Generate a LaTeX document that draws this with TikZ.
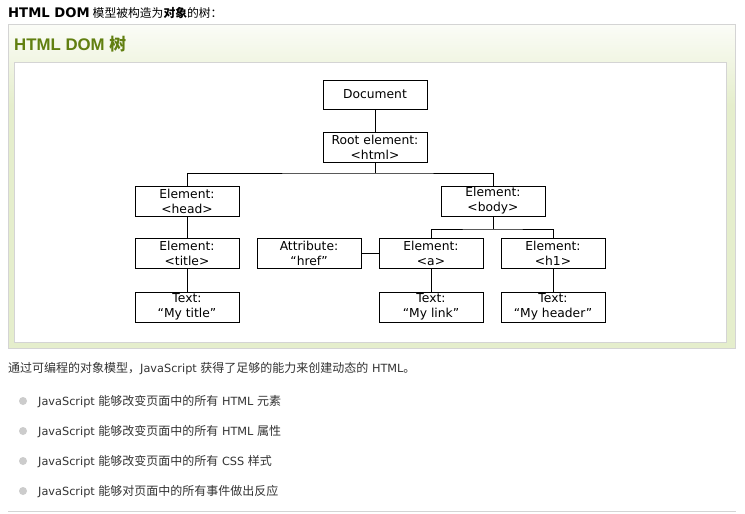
\documentclass[tikz,border=0pt]{standalone}
\usepackage{fontspec}
\setmainfont{DejaVu Sans}
\newfontfamily\cjk{Noto Sans CJK SC}
\newfontfamily\headfont{Liberation Sans}
\usetikzlibrary{calc}
\definecolor{panelgreen}{HTML}{E5EECC}
\definecolor{paneltop}{HTML}{FBFCF7}
\definecolor{panelborder}{HTML}{D4D4D4}
\definecolor{titlegreen}{HTML}{617F10}
\definecolor{bodytext}{HTML}{333333}
\definecolor{dotgray}{HTML}{CCCCCC}
\newcommand{\zh}[1]{{\cjk\fontsize{12}{14}\selectfont #1}}
\begin{document}
\begin{tikzpicture}[x=1pt,y=-1pt,
  dombox/.style={draw=black, line width=1pt, fill=white, minimum width=104pt,
    minimum height=30pt, inner sep=0pt, align=center,
    font=\fontsize{12.3}{15}\selectfont},
  link/.style={draw=black, line width=1pt},
  bodyline/.style={anchor=base west, inner sep=0pt, text=bodytext,
    font=\fontsize{11.3}{14}\selectfont},
  dot/.style={circle, fill=dotgray, minimum size=8pt, inner sep=0pt}]
\useasboundingbox (0,0) rectangle (745,514);
\fill[white] (0,0) rectangle (745,514);

% intro line
\node[anchor=base west, inner sep=0pt, font=\fontsize{13.2}{15}\selectfont] (intro) at (8,17)
  {\bfseries HTML DOM\kern3pt{\mdseries\cjk\fontsize{11.8}{14}\selectfont 模型被构造为}{\cjk\bfseries\fontsize{11.8}{14}\selectfont 对象}{\mdseries\cjk\fontsize{11.8}{14}\selectfont 的树：}};

% example panel
\fill[panelgreen] (8.5,24.5) rectangle (735.5,348.5);
\shade[top color=paneltop, bottom color=panelgreen] (8.5,24.5) rectangle (735.5,105);
\draw[panelborder, line width=1pt] (8.5,24.5) rectangle (735.5,348.5);
\node[anchor=base west, inner sep=0pt, text=titlegreen,
  font=\headfont\bfseries\fontsize{16.8}{20}\selectfont] (title) at (14,50)
  {HTML DOM {\cjk 树}};
\fill[white] (14.5,62.5) rectangle (726.5,342.5);
\draw[panelborder, line width=1pt] (14.5,62.5) rectangle (726.5,342.5);

% tree nodes
\node[dombox, minimum height=29pt] (doc) at (375,94.5) {Document};
\node[dombox] (root) at (375,147.5) {Root element:\\\textless html\textgreater};
\node[dombox] (head) at (187,201) {Element:\\\textless head\textgreater};
\node[dombox] (body) at (493,201) {Element:\\\textless body\textgreater};
\node[dombox] (titleel) at (187,253) {Element:\\\textless title\textgreater};
\node[dombox] (attr) at (309,253) {Attribute:\\“href”};
\node[dombox] (a) at (431,253) {Element:\\\textless a\textgreater};
\node[dombox] (h1) at (553,253) {Element:\\\textless h1\textgreater};
\node[dombox] (ttitle) at (187,307) {Text:\\“My title”};
\node[dombox] (tlink) at (431,307) {Text:\\“My link”};
\node[dombox] (theader) at (553,307) {Text:\\“My header”};

% branch points
\coordinate (rootfork) at (375,173);
\coordinate (bodyfork) at (493,229);

% connectors
\draw[link] (doc) -- (root);
\draw[link] (root) -- (rootfork);
\draw[link] (head.north) |- (rootfork) -| (body.north);
\draw[link] (head) -- (titleel);
\draw[link] (titleel) -- (ttitle);
\draw[link] (body) -- (bodyfork);
\draw[link] (a.north) |- (bodyfork) -| (h1.north);
\draw[link] (attr) -- (a);
\draw[link] (a) -- (tlink);
\draw[link] (h1) -- (theader);

% text below the panel
\node[bodyline] (lead) at (8,372)
  {\zh{通过可编程的对象模型，}JavaScript \zh{获得了足够的能力来创建动态的} HTML\zh{。}};

\node[dot] (d1) at (23,401) {};
\node[dot] (d2) at (23,431) {};
\node[dot] (d3) at (23,461) {};
\node[dot] (d4) at (23,491) {};
\node[bodyline] (l1) at (38,405)
  {JavaScript \zh{能够改变页面中的所有} HTML \zh{元素}};
\node[bodyline] (l2) at (38,435)
  {JavaScript \zh{能够改变页面中的所有} HTML \zh{属性}};
\node[bodyline] (l3) at (38,465)
  {JavaScript \zh{能够改变页面中的所有} CSS \zh{样式}};
\node[bodyline] (l4) at (38,495)
  {JavaScript \zh{能够对页面中的所有事件做出反应}};

\draw[panelborder, line width=1pt] (8,511.5) -- (736,511.5);
\end{tikzpicture}
\end{document}
